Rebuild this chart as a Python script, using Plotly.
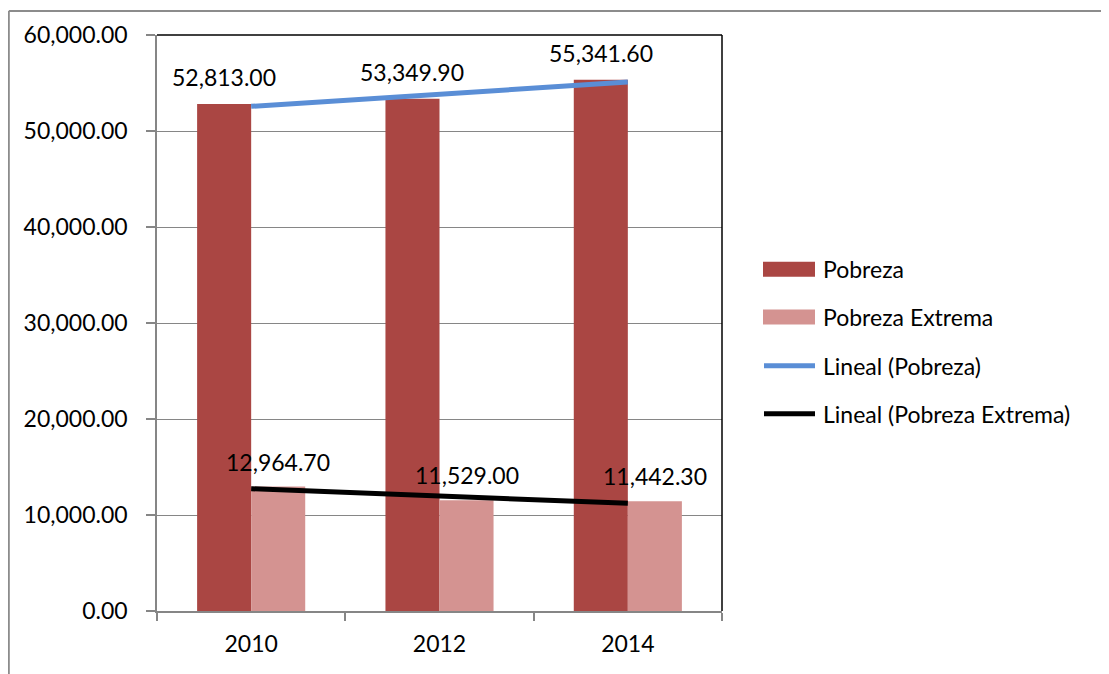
import numpy as np
import plotly.graph_objects as go

years = ["2010", "2012", "2014"]
pobreza = [52813.00, 53349.90, 55341.60]
pobreza_extrema = [12964.70, 11529.00, 11442.30]
series_names = ["Pobreza", "Pobreza Extrema", "Lineal (Pobreza)", "Lineal (Pobreza Extrema)"]

C_POB = "#AA4643"
C_EXT = "#D49391"
C_TRP = "#5A8ED6"
C_TRE = "#000000"
GRID = "#868686"
FONT = "Lato, Calibri, 'Open Sans', sans-serif"
FS = 23

OFF = 8  # page body margin
W, H = 1109 - OFF, 674 - OFF
L, R, T, B = 157 - OFF, 1109 - 722, 33 - OFF, 674 - 611
pw, ph = W - L - R, H - T - B
bargap = 0.426
bw = (1 - bargap) / 2

idx = np.arange(len(years))
fit_p = np.polyval(np.polyfit(idx, pobreza, 1), idx)
fit_e = np.polyval(np.polyfit(idx, pobreza_extrema, 1), idx)

fig = go.Figure()
fig.add_trace(go.Bar(x=years, y=pobreza, name=series_names[0], marker=dict(color=C_POB, line=dict(width=0))))
fig.add_trace(go.Bar(x=years, y=pobreza_extrema, name=series_names[1], marker=dict(color=C_EXT, line=dict(width=0))))
fig.add_trace(go.Scatter(x=years, y=fit_p, mode="lines", name=series_names[2], line=dict(color=C_TRP, width=5)))
fig.add_trace(go.Scatter(x=years, y=fit_e, mode="lines", name=series_names[3], line=dict(color=C_TRE, width=5)))

annotations = []
for i, (vp, ve) in enumerate(zip(pobreza, pobreza_extrema)):
    annotations.append(dict(x=i - bw / 2, y=vp, xref="x", yref="y", text=f"{vp:,.2f}", showarrow=False,
                            yshift=27, font=dict(size=FS, color="black", family=FONT)))
    annotations.append(dict(x=i + bw / 2, y=ve, xref="x", yref="y", text=f"{ve:,.2f}", showarrow=False,
                            yshift=25, font=dict(size=FS, color="black", family=FONT)))

# convert screenshot pixel coords to paper coords
def px_x(px):
    return (px - OFF - L) / pw

def px_y(py):
    return 1 - (py - OFF - T) / ph

shapes = []
# outer chart border (left and top)
shapes.append(dict(type="line", xref="paper", yref="paper", x0=px_x(8.8), x1=px_x(1120), y0=px_y(8.8), y1=px_y(8.8),
                   line=dict(color="#8C8C8C", width=2)))
shapes.append(dict(type="line", xref="paper", yref="paper", x0=px_x(8.8), x1=px_x(8.8), y0=px_y(8.8), y1=px_y(690),
                   line=dict(color="#8C8C8C", width=2)))
# plot area border top/right (black)
shapes.append(dict(type="line", xref="paper", yref="paper", x0=0, x1=1, y0=1, y1=1, line=dict(color="black", width=1.5)))
shapes.append(dict(type="line", xref="paper", yref="paper", x0=1, x1=1, y0=0, y1=1, line=dict(color="black", width=1.5)))

# manual legend
leg_y = [268, 316, 365, 413]
colors = [C_POB, C_EXT, C_TRP, C_TRE]
for k, (name, yy, col) in enumerate(zip(series_names, leg_y, colors)):
    if k < 2:
        shapes.append(dict(type="rect", xref="paper", yref="paper", x0=px_x(763), x1=px_x(815),
                           y0=px_y(yy - 7.5), y1=px_y(yy + 7.5), fillcolor=col, line=dict(width=0)))
    else:
        shapes.append(dict(type="line", xref="paper", yref="paper", x0=px_x(764), x1=px_x(815),
                           y0=px_y(yy), y1=px_y(yy), line=dict(color=col, width=5)))
    annotations.append(dict(x=px_x(821), y=px_y(yy), xref="paper", yref="paper", text=name, showarrow=False,
                            xanchor="left", yanchor="middle", font=dict(size=FS, color="black", family=FONT)))

fig.update_layout(
    width=W, height=H, autosize=False,
    margin=dict(l=L, r=R, t=T, b=B, pad=0),
    paper_bgcolor="white", plot_bgcolor="white",
    barmode="group", bargap=bargap, bargroupgap=0,
    showlegend=False,
    font=dict(family=FONT, size=FS, color="black"),
    shapes=shapes, annotations=annotations,
    xaxis=dict(type="category", tickson="boundaries", ticks="outside", ticklen=8, tickcolor=GRID, tickwidth=1.5,
               showline=True, linecolor=GRID, linewidth=1.5, showgrid=False, zeroline=False,
               ticklabelstandoff=12, tickfont=dict(size=FS, family=FONT, color="black")),
    yaxis=dict(range=[0, 60000], dtick=10000, tickformat=",.2f", ticks="outside", ticklen=9, tickcolor=GRID,
               tickwidth=1.5, showline=True, linecolor=GRID, linewidth=1.5, showgrid=True, gridcolor=GRID,
               gridwidth=1, zeroline=False, ticklabelstandoff=14, tickfont=dict(size=FS, family=FONT, color="black")),
)

fig.write_html("out.html")
